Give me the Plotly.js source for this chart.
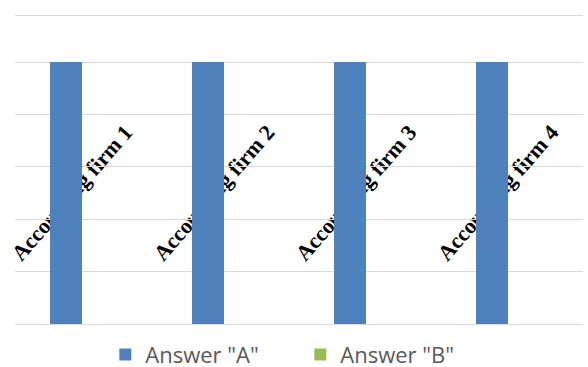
<!DOCTYPE html>
<html>
<head>
<meta charset="utf-8">
<script src="https://cdn.plot.ly/plotly-3.0.1.min.js"></script>
<style>
  html, body { margin: 0; padding: 0; background: #ffffff; }
  #chart { width: 588px; height: 367px; }
</style>
</head>
<body>
<div id="chart"></div>
<script>
// Survey answers per accounting firm
const firms = ["Accounting firm 1", "Accounting firm 2", "Accounting firm 3", "Accounting firm 4"];
const answerA = [5, 5, 5, 5];
const answerB = [0, 0, 0, 0];
const seriesNames = ['Answer "A"', 'Answer "B"'];

const traces = [
  {
    type: "bar",
    name: seriesNames[0],
    x: firms,
    y: answerA,
    marker: { color: "#4f81bd" },
    hoverinfo: "x+y+name"
  },
  {
    type: "bar",
    name: seriesNames[1],
    x: firms,
    y: answerB,
    marker: { color: "#9bbb59" },
    hoverinfo: "x+y+name"
  }
];

// Category labels lie under the plot layer (transparent plot background),
// rotated, slightly left of each category centre
const labelOffset = -0.11;
const nCats = firms.length;
const labelShapes = firms.map(function (name, i) {
  const cx = (i + 0.5 + labelOffset) / nCats;
  return {
    type: "rect",
    layer: "below",
    xref: "paper",
    x0: cx - 0.01,
    x1: cx + 0.01,
    yref: "paper",
    y0: 0.38,
    y1: 0.48,
    line: { width: 0 },
    fillcolor: "rgba(0,0,0,0)",
    label: {
      text: "<b>" + name + "</b>",
      textangle: -49,
      textposition: "middle center",
      xanchor: "center",
      yanchor: "middle",
      font: { family: "Liberation Serif, Times New Roman, serif", size: 22, color: "#000000" }
    }
  };
});

const layout = {
  width: 588,
  height: 367,
  margin: { l: 15, r: 5, t: 16, b: 42.5, autoexpand: false },
  paper_bgcolor: "#ffffff",
  plot_bgcolor: "rgba(0,0,0,0)",
  barmode: "group",
  bargap: 0.437,
  bargroupgap: 0.2,
  showlegend: true,
  legend: {
    orientation: "h",
    x: 0.159,
    xanchor: "left",
    y: -0.1,
    yanchor: "middle",
    font: { family: "Open Sans, sans-serif", size: 22, color: "#595959" },
    itemwidth: 30,
    entrywidth: 150,
    entrywidthmode: "pixels"
  },
  xaxis: {
    type: "category",
    showticklabels: false,
    ticks: "",
    showgrid: false,
    showline: true,
    mirror: true,
    linecolor: "#d9d9d9",
    linewidth: 1,
    fixedrange: true
  },
  yaxis: {
    range: [0, 5.88],
    dtick: 1,
    showticklabels: false,
    ticks: "",
    showgrid: true,
    gridcolor: "#d9d9d9",
    gridwidth: 1,
    zeroline: false,
    showline: false,
    fixedrange: true
  },
  shapes: labelShapes
};

Plotly.newPlot("chart", traces, layout, { displayModeBar: false, staticPlot: true });
</script>
</body>
</html>
